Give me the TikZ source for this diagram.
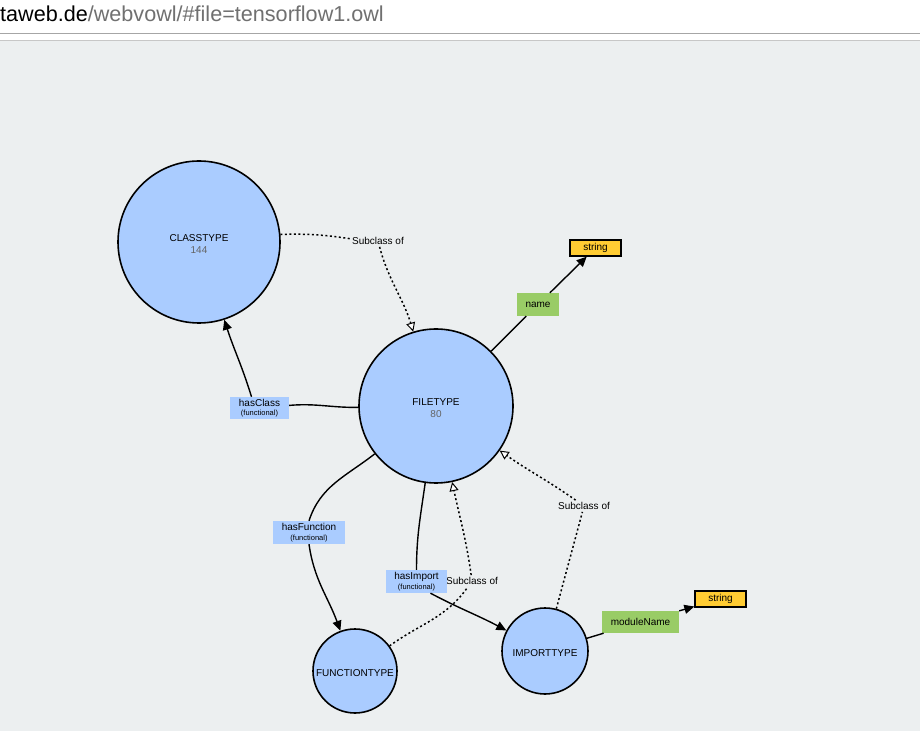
\documentclass[tikz,border=0pt]{standalone}
\usepackage{fontspec}
\setmainfont{Liberation Sans}
\usetikzlibrary{arrows.meta}

\definecolor{bggray}{RGB}{236,239,240}
\definecolor{clsblue}{RGB}{170,204,255}
\definecolor{dtyellow}{RGB}{255,204,51}
\definecolor{propgreen}{RGB}{153,204,102}
\definecolor{urlgray}{RGB}{112,112,112}
\definecolor{numgray}{RGB}{100,100,100}

\newcommand{\functag}{{\fontsize{7.5}{8}\selectfont(functional)}}

\tikzset{
  owlclass/.style={circle, draw=black, line width=1.6pt, fill=clsblue, inner sep=0pt, align=center, text height=11pt, font=\fontsize{10}{12}\selectfont},
  countclass/.style={owlclass, text height=24pt},
  objprop/.style={fill=clsblue, inner sep=0pt, align=center, font=\fontsize{10}{9.5}\selectfont},
  dataprop/.style={fill=propgreen, inner sep=0pt, font=\fontsize{10}{12}\selectfont},
  datatype/.style={draw=black, line width=1.3pt, fill=dtyellow, inner sep=0pt, minimum width=51pt, minimum height=16pt, font=\fontsize{10}{12}\selectfont},
  sublabel/.style={inner sep=2pt, font=\fontsize{10}{12}\selectfont},
  subcl/.style={line width=1.5pt, dash pattern=on 2pt off 2.5pt},
  subarrow/.style={subcl, -{Triangle[open, fill=white, line width=1pt, length=9pt, width=9pt]}},
  edge/.style={line width=1.4pt},
  edgearrow/.style={edge, -{Triangle[length=10pt, width=9pt]}}
}

\begin{document}
\begin{tikzpicture}[x=1pt, y=1pt]
\useasboundingbox (0,0) rectangle (920,731);

% Selain
\fill[white] (0,0) rectangle (920,731);
\fill[bggray] (0,0) rectangle (920,690);
\draw[black!35, line width=1pt] (0,697.5) -- (920,697.5);
\draw[black!22, line width=1pt] (0,690.5) -- (920,690.5);
\node[anchor=base west, inner sep=0pt, font=\fontsize{21.6}{25}\selectfont] (url) at (0,709) {taweb.de\textcolor{urlgray}{/webvowl/\#file=tensorflow1.owl}};

% Luokat
\node[countclass, minimum size=162pt] (cls) at (199,489) {CLASSTYPE\\{\color{numgray}144}};
\node[countclass, minimum size=154pt] (file) at (436,325) {FILETYPE\\{\color{numgray}80}};
\node[owlclass, minimum size=84pt] (func) at (355,60) {FUNCTIONTYPE};
\node[owlclass, minimum size=86pt] (imp) at (545,80) {IMPORTTYPE};

% Aliluokat
\node[sublabel] (sub1) at (378,490) {Subclass of};
\node[sublabel] (sub2) at (472,150) {Subclass of};
\node[sublabel] (sub3) at (584,225) {Subclass of};

% Ominaisuudet
\node[objprop, minimum width=59pt, minimum height=22pt] (hc) at (259.5,323) {hasClass\\\functag};
\node[objprop, minimum width=72pt, minimum height=23pt] (hf) at (309,198.5) {hasFunction\\\functag};
\node[objprop, minimum width=61pt, minimum height=23pt] (hi) at (416.5,149.5) {hasImport\\\functag};
\node[dataprop, minimum width=42pt, minimum height=23pt] (nm) at (538,426.5) {name};
\node[dataprop, minimum width=77pt, minimum height=22pt] (mn) at (640.5,109) {moduleName};
\node[datatype] (str1) at (595.5,483) {string};
\node[datatype] (str2) at (720.5,132) {string};

% Aliluokkasuhteet
\draw[subcl] (cls) to[bend left=5] (sub1);
\draw[subarrow] (sub1) to[out=-75,in=107] (file);
\draw[subcl] (func) to[out=36,in=-125] (sub2);
\draw[subarrow] (sub2) to[out=98,in=-78] (file);
\draw[subcl] (imp) to[out=75,in=-105] (sub3);
\draw[subarrow] (sub3) to[out=145,in=-35] (file);

% Kaaret
\draw[edge] (file) to[out=181,in=5] (hc);
\draw[edgearrow] ([xshift=-8pt]hc.north) to[out=107,in=-72] (cls);
\draw[edge] (file) to[out=218,in=72] (hf.north);
\draw[edgearrow] (hf.south) to[out=-82,in=110] (func);
\draw[edge] (file) to[out=262,in=90] (hi.north);
\draw[edgearrow] ([xshift=14pt]hi.south) to[out=-28,in=152] (imp);
\draw[edge] (file) -- (nm);
\draw[edgearrow] (nm) -- (str1);
\draw[edge] (imp) -- (mn);
\draw[edgearrow] (mn) -- (str2);

\end{tikzpicture}
\end{document}
